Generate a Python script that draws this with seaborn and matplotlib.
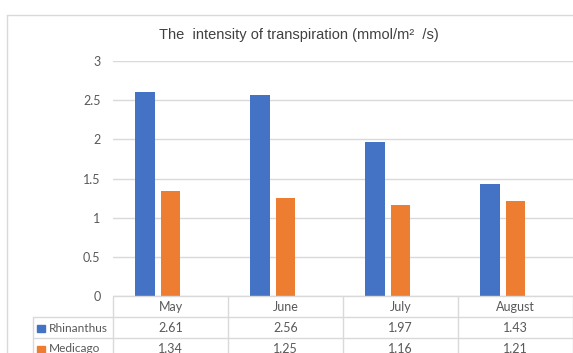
import matplotlib
matplotlib.use("Agg")
import matplotlib.pyplot as plt
from matplotlib.lines import Line2D
from matplotlib.patches import Rectangle
from matplotlib.transforms import blended_transform_factory
import seaborn as sns
import pandas as pd

months = ["May", "June", "July", "August"]
series = ["Rhinanthus", "Medicago"]
rhinanthus = [2.61, 2.56, 1.97, 1.43]
medicago = [1.34, 1.25, 1.16, 1.21]
colors = ["#4472C4", "#ED7D31"]
yticks = [0, 0.5, 1, 1.5, 2, 2.5, 3]

df = pd.DataFrame({
    "month": months * 2,
    "series": [series[0]] * 4 + [series[1]] * 4,
    "value": rhinanthus + medicago,
})

sns.set_theme(style="white")
plt.rcParams["font.family"] = ["Lato", "DejaVu Sans"]

W, H = 573, 353
fig = plt.figure(figsize=(W / 100, H / 100), dpi=100)
fig.patch.set_facecolor("white")

# plot area in pixel terms
left, right, top, bottom = 113, 573, 61, 296
ax = fig.add_axes([left / W, 1 - bottom / H, (right - left) / W, (bottom - top) / H])

sns.barplot(data=df, x="month", y="value", hue="series", hue_order=series,
            palette=colors, saturation=1, width=0.44, gap=0.21, linewidth=0,
            legend=False, ax=ax, errorbar=None)

shift = 0.11
ax.set_xlim(-0.5 + shift, len(months) - 0.5 + shift)
ax.set_ylim(0, 3)
ax.set_yticks(yticks)
ax.set_yticklabels([f"{t:g}" for t in yticks])
ax.yaxis.grid(True, color="#d9d9d9", linewidth=1)
ax.set_axisbelow(True)
for s in ax.spines.values():
    s.set_visible(False)
ax.set_xticks([])
ax.set_xlabel("")
ax.set_ylabel("")
ax.tick_params(axis="y", length=0, pad=9, labelsize=9, labelcolor="#595959")

# background layer in pixel coordinates: chart border and title
ov = fig.add_axes([0, 0, 1, 1], zorder=-1)
ov.set_xlim(0, W)
ov.set_ylim(H, 0)
ov.axis("off")

line_c = "#d9d9d9"
ov.add_line(Line2D([7, 7], [15, H], color=line_c, lw=1))
ov.add_line(Line2D([7, W], [15, 15], color=line_c, lw=1))

ov.text(298.5, 35, "The  intensity of transpiration (mmol/m\u00b2  /s)",
        ha="center", va="center", fontsize=10.5, color="#404040",
        family=["Liberation Sans", "DejaVu Sans"])

# data table under the plot
row_y = [296, 317, 338, 359]
ov2 = fig.add_axes([0, 0, 1, 1], zorder=3)
ov2.set_xlim(0, W)
ov2.set_ylim(H, 0)
ov2.axis("off")
tx2 = blended_transform_factory(ax.transData, ov2.transData)

ov2.add_line(Line2D([left, W], [row_y[0], row_y[0]], color=line_c, lw=1))
for y in row_y[1:3]:
    ov2.add_line(Line2D([33, W], [y, y], color=line_c, lw=1))
ov2.add_line(Line2D([33, 33], [row_y[1], H], color=line_c, lw=1))
for i in range(len(months) + 1):
    ov2.add_line(Line2D([i - 0.5 + shift] * 2, [row_y[0], H], color=line_c,
                        lw=1, transform=tx2))

txt_kw = dict(ha="center", va="center", fontsize=9, color="#595959")
for i, m in enumerate(months):
    ov2.text(i + shift, 307, m, transform=tx2, **txt_kw)
    ov2.text(i + shift, 328, f"{rhinanthus[i]:.2f}", transform=tx2, **txt_kw)
    ov2.text(i + shift, 349, f"{medicago[i]:.2f}", transform=tx2, **txt_kw)

for j, (name, c) in enumerate(zip(series, colors)):
    yc = 328 + 21 * j
    ov2.add_patch(Rectangle((37, yc - 3.5), 7.5, 7.5, color=c))
    ov2.text(49, yc, name, ha="left", va="center", fontsize=8.6, color="#595959")

fig.savefig("out.png", dpi=100)
